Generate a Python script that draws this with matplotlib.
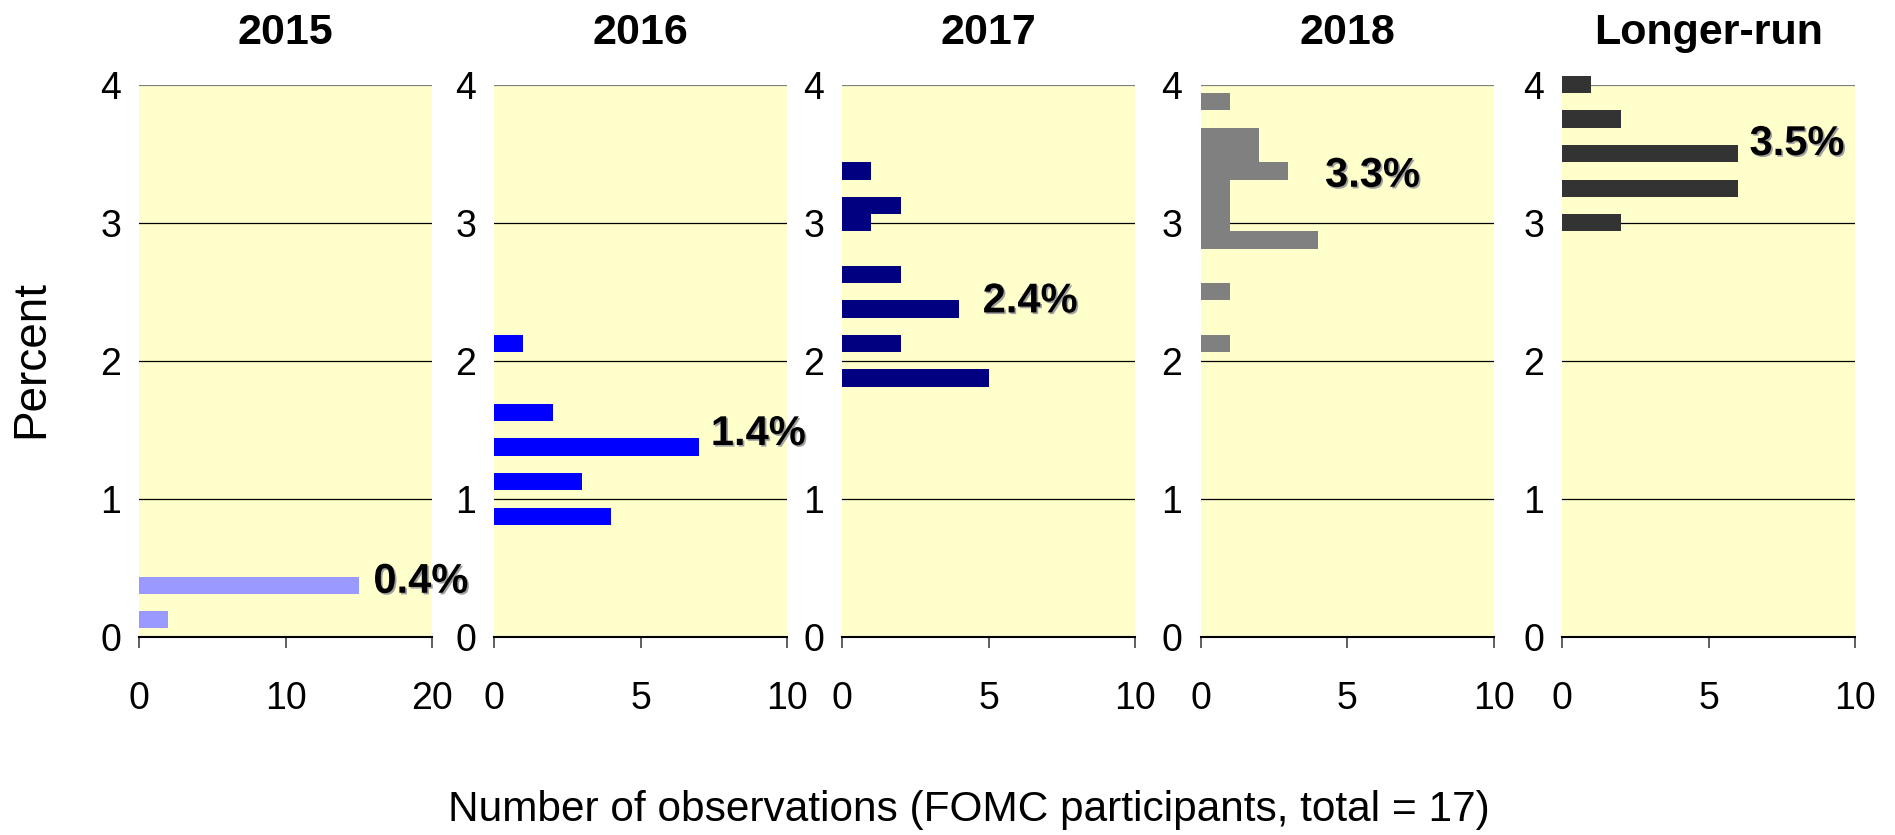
import matplotlib.pyplot as plt
import matplotlib.patheffects as pe

plt.rcParams['font.family'] = ['Liberation Sans', 'DejaVu Sans']

# --- data: policy rate (bin centre) and number of participants ---
panels = ['2015', '2016', '2017', '2018', 'Longer-run']

rate_2015 = [0.125, 0.375]
count_2015 = [2, 15]

rate_2016 = [0.875, 1.125, 1.375, 1.625, 2.125]
count_2016 = [4, 3, 7, 2, 1]

rate_2017 = [1.875, 2.125, 2.375, 2.625, 3.0, 3.125, 3.375]
count_2017 = [5, 2, 4, 2, 1, 2, 1]

rate_2018 = [2.125, 2.5, 2.875, 3.0, 3.125, 3.25, 3.375, 3.5, 3.625, 3.875]
count_2018 = [1, 1, 4, 1, 1, 1, 3, 2, 2, 1]

rate_lr = [3.0, 3.25, 3.5, 3.75, 4.0]
count_lr = [2, 6, 6, 2, 1]

medians = ['0.4%', '1.4%', '2.4%', '3.3%', '3.5%']
x_max = [20, 10, 10, 10, 10]

rates = [rate_2015, rate_2016, rate_2017, rate_2018, rate_lr]
counts = [count_2015, count_2016, count_2017, count_2018, count_lr]

# --- styling ---
colors = ['#9999FF', '#0000FF', '#000080', '#808080', '#333333']
label_pos = [(16, 0.4), (7.4, 1.47), (4.8, 2.43), (4.25, 3.34), (6.4, 3.57)]
lefts = [139, 494, 842, 1200.5, 1562]
W, H = 1895, 835

fig = plt.figure(figsize=(W / 100, H / 100), dpi=100)

for i in range(5):
    ax = fig.add_axes([lefts[i] / W, 1 - 637 / H, 293 / W, (637 - 84.6) / H])
    ax.set_facecolor('#FFFFCC')
    for g in [1, 2, 3]:
        ax.axhline(g, color='black', lw=0.9, zorder=1)
    ax.axhline(4, color='#808080', lw=1.6, zorder=1)

    ax.barh(rates[i], counts[i], height=0.125, color=colors[i],
            zorder=3, clip_on=False)

    ax.set_xlim(0, x_max[i])
    ax.set_ylim(0, 4)
    ax.set_xticks([0, x_max[i] / 2, x_max[i]])
    ax.set_xticklabels(['0', str(x_max[i] // 2), str(x_max[i])])
    ax.set_yticks([0, 1, 2, 3, 4])
    ax.tick_params(axis='x', length=8, width=1.2, color='#444444',
                   pad=24, labelsize=27)
    ax.tick_params(axis='y', length=0, pad=13, labelsize=27)
    for s in ['top', 'left', 'right']:
        ax.spines[s].set_visible(False)
    ax.spines['bottom'].set_linewidth(1.5)

    fig.text((lefts[i] + 146.5) / W, 1 - 33 / H, panels[i], fontsize=31,
             fontweight='bold', ha='center', va='center')

    lx, ly = label_pos[i]
    ax.text(lx, ly, medians[i], fontsize=30, fontweight='bold',
            va='center', ha='left', zorder=5, clip_on=False,
            path_effects=[pe.withSimplePatchShadow(offset=(1.2, -1.2),
                                                   shadow_rgbFace='#a0a0a0',
                                                   alpha=1)])

fig.text(31 / W, 1 - 359 / H, 'Percent', rotation=90, fontsize=33,
         ha='center', va='center')
fig.text(969 / W, 1 - 810 / H,
         'Number of observations (FOMC participants, total = 17)',
         fontsize=30.5, ha='center', va='center')

fig.savefig('out.png', dpi=100)
